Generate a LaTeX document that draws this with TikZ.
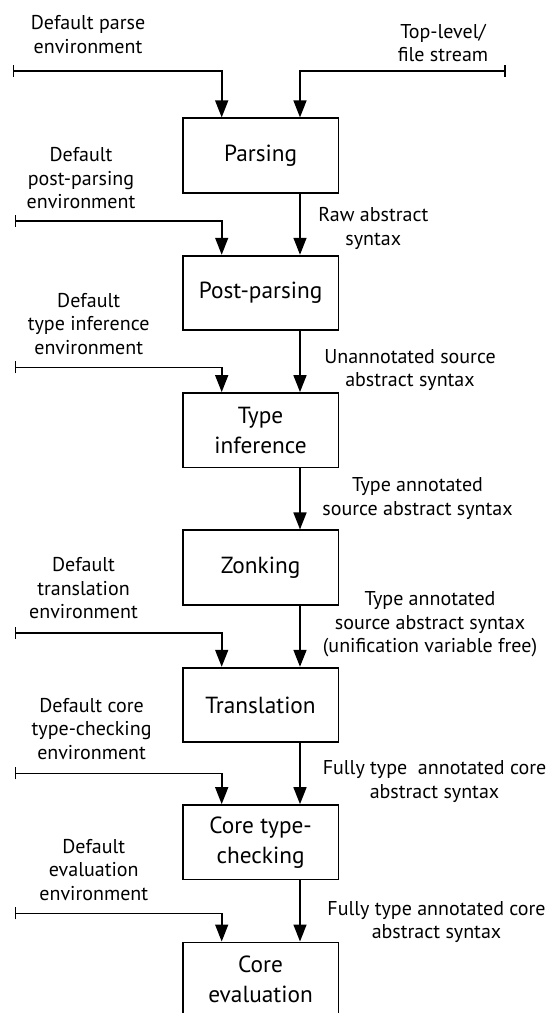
\documentclass[tikz,border=0pt]{standalone}
\usepackage{fontspec}
\setmainfont{PT Sans}
\usetikzlibrary{arrows.meta}
\begin{document}
\begin{tikzpicture}[x=1pt,y=-1pt,
  stage/.style={draw, line width=1.8pt, minimum width=155.8pt, minimum height=74.4pt,
    inner sep=0pt, align=center, font=\fontsize{23.3}{30}\selectfont},
  lbl/.style={align=center, inner sep=0pt, anchor=base, font=\fontsize{20}{23.5}\selectfont},
  conn/.style={line width=1.6pt, -{Triangle[width=13pt,length=17pt]}},
  feed/.style={line width=1.6pt, {Bar[width=12pt]}-{Triangle[width=13pt,length=17pt]}}]
\useasboundingbox (0,0) rectangle (551,1013);
\clip (0,0) rectangle (551,1013);
% stages
\node[stage] (pars) at (260.6,155.5) {Parsing};
\node[stage] (pp)   at (260.6,292.85) {Post-parsing};
\node[stage] (ti)   at (260.6,430.2) {Type\\inference};
\node[stage] (zk)   at (260.6,567.55) {Zonking};
\node[stage] (tr)   at (260.6,704.9) {Translation};
\node[stage] (ctc)  at (260.6,842.25) {Core type-\\checking};
\node[stage] (ce)   at (260.6,979.6) {Core\\evaluation};
% free ends of the feeds
\coordinate (f0) at (12.7,71);
\coordinate (fr) at (506,71);
\coordinate (f1) at (14.8,220.7);
\coordinate (f2) at (14.8,367.3);
\coordinate (f4) at (14.8,632.7);
\coordinate (f5) at (14.8,773.3);
\coordinate (f6) at (14.8,913.3);
% feeds
\draw[feed] (f0) -| ([xshift=-38.9pt]pars.north);
\draw[feed] (fr) -| ([xshift=39.4pt]pars.north);
\draw[feed] (f1) -| ([xshift=-38.9pt]pp.north);
\draw[feed] (f2) -| ([xshift=-38.9pt]ti.north);
\draw[feed] (f4) -| ([xshift=-38.9pt]tr.north);
\draw[feed] (f5) -| ([xshift=-38.9pt]ctc.north);
\draw[feed] (f6) -| ([xshift=-38.9pt]ce.north);
% main flow
\draw[conn] ([xshift=39.4pt]pars.south) -- ([xshift=39.4pt]pp.north);
\draw[conn] ([xshift=39.4pt]pp.south) -- ([xshift=39.4pt]ti.north);
\draw[conn] ([xshift=39.4pt]ti.south) -- ([xshift=39.4pt]zk.north);
\draw[conn] ([xshift=39.4pt]zk.south) -- ([xshift=39.4pt]tr.north);
\draw[conn] ([xshift=39.4pt]tr.south) -- ([xshift=39.4pt]ctc.north);
\draw[conn] ([xshift=39.4pt]ctc.south) -- ([xshift=39.4pt]ce.north);
% left labels (anchored at the baseline of their last line)
\node[lbl] (l0) at (88,53.3) {Default parse\\environment};
\node[lbl] (l1) at (81,208.5) {Default\\post-parsing\\environment};
\node[lbl] (l2) at (88.7,354) {Default\\type inference\\environment};
\node[lbl] (l4) at (83.5,618.5) {Default\\translation\\environment};
\node[lbl] (l5) at (91.6,759) {Default core\\type-checking\\environment};
\node[lbl] (l6) at (93.8,900) {Default\\evaluation\\environment};
% right labels
\node[lbl] (r0) at (443,61.7) {Top-level/\\file stream};
\node[lbl] (r1) at (373.3,245.2) {Raw abstract\\syntax};
\node[lbl] (r2) at (410,386.8) {Unannotated source\\abstract syntax};
\node[lbl] (r3) at (417.5,515.2) {Type annotated\\source abstract syntax};
\node[lbl] (r4) at (430,652.5) {Type annotated\\source abstract syntax\\(unification variable free)};
\node[lbl] (r5) at (434.5,798) {Fully type\ \ annotated core\\abstract syntax};
\node[lbl] (r6) at (436.5,938.5) {Fully type annotated core\\abstract syntax};
\end{tikzpicture}
\end{document}
